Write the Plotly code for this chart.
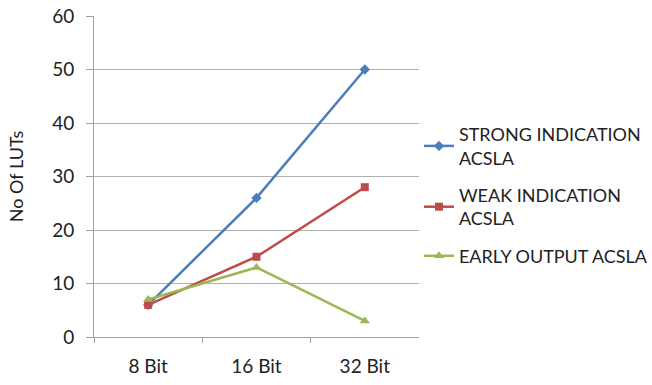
import plotly.graph_objects as go

categories = ["8 Bit", "16 Bit", "32 Bit"]
strong = [6, 26, 50]
weak = [6, 15, 28]
early = [7, 13, 3]
names = ["STRONG INDICATION<br>ACSLA", "WEAK INDICATION<br>ACSLA", "EARLY OUTPUT ACSLA"]
colors = ["#4a7ebb", "#be4b48", "#98b954"]
symbols = ["diamond", "square", "triangle-up"]
sizes = [8, 8, 9]

fig = go.Figure()
for i, vals in enumerate([strong, weak, early]):
    fig.add_trace(go.Scatter(
        x=categories, y=vals, name=names[i], mode="lines+markers",
        line=dict(color=colors[i], width=2.5),
        marker=dict(symbol=symbols[i], size=sizes[i], color=colors[i]),
        legendgroup=str(i),
    ))

font_family = "Lato, Open Sans, sans-serif"
fig.update_layout(
    width=652, height=385,
    margin=dict(l=94, r=233, t=16, b=48),
    plot_bgcolor="white", paper_bgcolor="white",
    font=dict(family=font_family, size=18, color="#222222"),
    showlegend=True,
    legend=dict(xref="container", yref="container", x=0.6426, y=0.6987,
                xanchor="left", yanchor="top",
                font=dict(size=18, color="#222222"), tracegroupgap=11,
                itemwidth=30, bgcolor="rgba(0,0,0,0)"),
    xaxis=dict(type="category", range=[-0.5, 2.5], showgrid=False, automargin=False,
               showline=True, linecolor="#a0a0a0", linewidth=1,
               ticks="outside", tickson="boundaries", ticklen=5, tickcolor="#a0a0a0",
               tickfont=dict(size=19), ticklabelstandoff=12, fixedrange=True),
    yaxis=dict(range=[0, 60], dtick=10, showgrid=True, gridcolor="#b0b0b0", gridwidth=1,
               showline=True, linecolor="#a0a0a0", linewidth=1, automargin=False,
               ticks="outside", ticklen=7, tickcolor="#a0a0a0",
               tickfont=dict(size=19), ticklabelstandoff=8, zeroline=False,
               title=dict(text="No Of LUTs", font=dict(size=18), standoff=23)),
)
fig.write_html("out.html", config={"displayModeBar": False},
               post_script="document.body.style.margin='0px';document.body.style.overflow='hidden';")
